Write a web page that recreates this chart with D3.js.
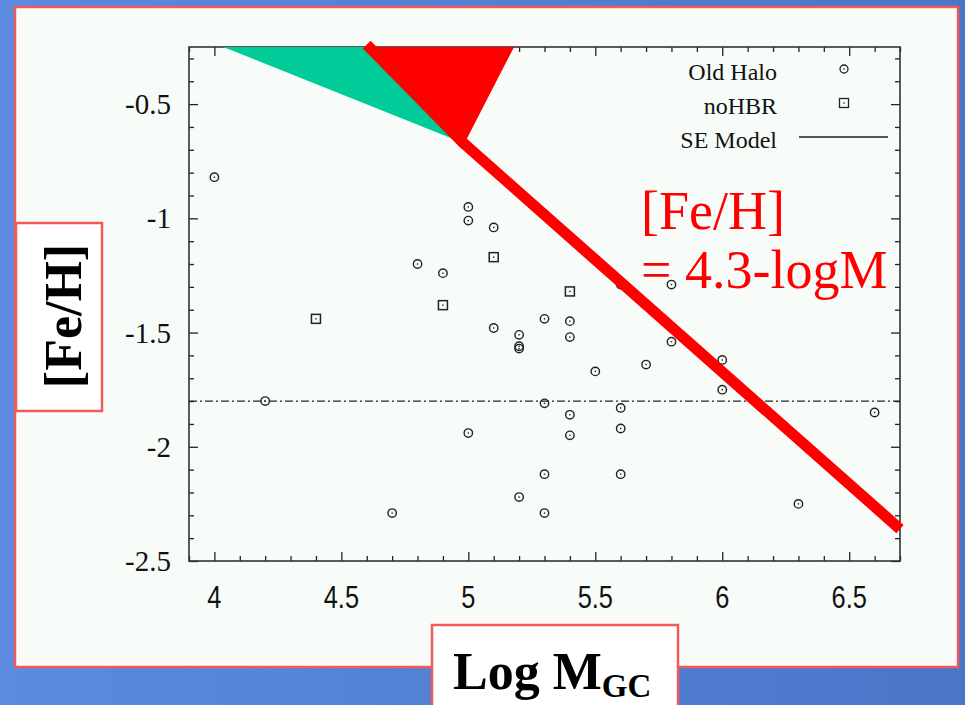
<!DOCTYPE html>
<html>
<head>
<meta charset="utf-8">
<script src="https://cdn.jsdelivr.net/npm/d3@7"></script>
<style>
  html, body { margin: 0; padding: 0; background: #4f7dd2; }
  svg { display: block; }
</style>
</head>
<body>
<div id="chart"></div>
<script>
//////////////////////////////////////////////////////////////
////////////////////////// Data //////////////////////////////
//////////////////////////////////////////////////////////////

// Old Halo clusters (log M, [Fe/H])
var oldHaloX = [4.0, 5.0, 5.0, 5.1, 4.8, 4.9, 5.6, 5.8, 5.3, 5.4, 5.4, 5.1, 5.2, 5.2, 5.2,
                5.8, 5.7, 5.5, 6.0, 6.0, 4.2, 5.3, 5.6, 5.4, 6.6, 5.0, 5.4, 5.6, 5.3, 5.6,
                5.2, 5.3, 4.7, 6.3];
var oldHaloY = [-0.82, -0.95, -1.01, -1.04, -1.20, -1.24, -1.29, -1.29, -1.44, -1.45, -1.52, -1.48, -1.51, -1.56, -1.57,
                -1.54, -1.64, -1.67, -1.62, -1.75, -1.80, -1.81, -1.83, -1.86, -1.85, -1.94, -1.95, -1.92, -2.12, -2.12,
                -2.22, -2.29, -2.29, -2.25];

// noHBR clusters
var noHbrX = [5.1, 4.9, 5.4, 4.4];
var noHbrY = [-1.17, -1.38, -1.32, -1.44];

// SE model level
var seModelY = -1.80;

// overlay shapes (data coords)
var greenTri = [[4.035, -0.25], [4.60, -0.25], [4.98, -0.67]];
var redTri   = [[4.60, -0.25], [5.18, -0.25], [4.99, -0.66]];
var redLine  = [[4.60, -0.24], [4.98, -0.67], [6.70, -2.36]];

// axis ticks
var xMajor = [4, 4.5, 5, 5.5, 6, 6.5];
var xMajorLabels = ["4", "4.5", "5", "5.5", "6", "6.5"];
var yMajor = [-0.5, -1, -1.5, -2, -2.5];
var yMajorLabels = ["-0.5", "-1", "-1.5", "-2", "-2.5"];
var xMinor = [3.9, 4.1, 4.2, 4.3, 4.4, 4.6, 4.7, 4.8, 4.9, 5.1, 5.2, 5.3, 5.4, 5.6, 5.7, 5.8, 5.9,
              6.1, 6.2, 6.3, 6.4, 6.6, 6.7];
var yMinor = [-0.3, -0.4, -0.6, -0.7, -0.8, -0.9, -1.1, -1.2, -1.3, -1.4, -1.6, -1.7, -1.8, -1.9,
              -2.1, -2.2, -2.3, -2.4];

var legendNames = ["Old Halo", "noHBR", "SE Model"];

//////////////////////////////////////////////////////////////
/////////////////////// SVG set up ///////////////////////////
//////////////////////////////////////////////////////////////

var width = 965, height = 705;

var svg = d3.select("#chart").append("svg")
    .attr("width", width)
    .attr("height", height);

var defs = svg.append("defs");
var bg = defs.append("linearGradient")
    .attr("id", "bg-grad")
    .attr("x1", "0%").attr("y1", "0%")
    .attr("x2", "100%").attr("y2", "0%");
bg.append("stop").attr("offset", 0).attr("stop-color", "#5b8ade");
bg.append("stop").attr("offset", 1).attr("stop-color", "#4a76c8");

svg.append("rect").attr("width", width).attr("height", height).style("fill", "url(#bg-grad)");

// slide panel
svg.append("rect")
    .attr("x", 15).attr("y", 7).attr("width", 943).attr("height", 660)
    .style("fill", "#f8fcf8")
    .style("stroke", "#f25a5a").style("stroke-width", 2.5);

var x = d3.scaleLinear().domain([3.9, 6.7]).range([189, 900]);
var y = d3.scaleLinear().domain([-2.5, -0.25]).range([561, 47]);

var plot = svg.append("g");

//////////////////////////////////////////////////////////////
/////////////////////// Axes /////////////////////////////////
//////////////////////////////////////////////////////////////

function tickAxis(axisFn, scale, values, size, tr) {
    plot.append("g")
        .attr("transform", tr)
        .call(axisFn(scale).tickValues(values).tickSize(size).tickFormat(""))
        .call(function(g) { g.select(".domain").remove(); })
        .selectAll("line").style("stroke", "#222").style("stroke-width", 1.3);
}

// inward ticks on all four sides (gnuplot style)
tickAxis(d3.axisTop, x, xMajor, 9, "translate(0," + y.range()[0] + ")");
tickAxis(d3.axisTop, x, xMinor, 5, "translate(0," + y.range()[0] + ")");
tickAxis(d3.axisBottom, x, xMajor, 9, "translate(0," + y.range()[1] + ")");
tickAxis(d3.axisBottom, x, xMinor, 5, "translate(0," + y.range()[1] + ")");
tickAxis(d3.axisRight, y, yMajor, 9, "translate(" + x.range()[0] + ",0)");
tickAxis(d3.axisRight, y, yMinor, 5, "translate(" + x.range()[0] + ",0)");
tickAxis(d3.axisLeft, y, yMajor, 9, "translate(" + x.range()[1] + ",0)");
tickAxis(d3.axisLeft, y, yMinor, 5, "translate(" + x.range()[1] + ",0)");

plot.append("rect")
    .attr("x", x.range()[0]).attr("y", y.range()[1])
    .attr("width", x.range()[1] - x.range()[0])
    .attr("height", y.range()[0] - y.range()[1])
    .style("fill", "none").style("stroke", "#333").style("stroke-width", 1.6);

// tick labels
plot.selectAll(".xlab").data(xMajor).enter().append("text")
    .attr("class", "xlab")
    .attr("transform", function(d) { return "translate(" + x(d) + ",608) scale(0.82,1)"; })
    .attr("text-anchor", "middle")
    .style("font-family", "'Liberation Sans', Arial, sans-serif")
    .style("font-size", "31px")
    .style("fill", "#111")
    .text(function(d, i) { return xMajorLabels[i]; });

plot.selectAll(".ylab").data(yMajor).enter().append("text")
    .attr("class", "ylab")
    .attr("x", 171)
    .attr("y", function(d) { return y(d) + 10; })
    .attr("text-anchor", "end")
    .style("font-family", "'Liberation Serif', 'Times New Roman', serif")
    .style("font-size", "29px")
    .style("fill", "#111")
    .text(function(d, i) { return yMajorLabels[i]; });

//////////////////////////////////////////////////////////////
/////////////////////// Marks ////////////////////////////////
//////////////////////////////////////////////////////////////

// SE model line
plot.append("line")
    .attr("x1", x.range()[0]).attr("x2", x.range()[1])
    .attr("y1", y(seModelY)).attr("y2", y(seModelY))
    .style("stroke", "#222").style("stroke-width", 1.1)
    .style("stroke-dasharray", "8,3,2,3");

var haloData = oldHaloX.map(function(d, i) { return [d, oldHaloY[i]]; });
var hbrData = noHbrX.map(function(d, i) { return [d, noHbrY[i]]; });

function drawCircles(g, data) {
    g.selectAll(".oh").data(data).enter().append("circle")
        .attr("class", "oh")
        .attr("cx", function(d) { return x(d[0]); })
        .attr("cy", function(d) { return y(d[1]); })
        .attr("r", 4.2)
        .style("fill", "none").style("stroke", "#222").style("stroke-width", 1.4);
    g.selectAll(".ohd").data(data).enter().append("rect")
        .attr("class", "ohd")
        .attr("x", function(d) { return x(d[0]) - 0.7; })
        .attr("y", function(d) { return y(d[1]) - 0.7; })
        .attr("width", 1.4).attr("height", 1.4)
        .style("fill", "#222");
}

function drawSquares(g, data) {
    g.selectAll(".hb").data(data).enter().append("rect")
        .attr("class", "hb")
        .attr("x", function(d) { return x(d[0]) - 4.5; })
        .attr("y", function(d) { return y(d[1]) - 4.5; })
        .attr("width", 9).attr("height", 9)
        .style("fill", "none").style("stroke", "#222").style("stroke-width", 1.5);
    g.selectAll(".hbd").data(data).enter().append("rect")
        .attr("class", "hbd")
        .attr("x", function(d) { return x(d[0]) - 0.7; })
        .attr("y", function(d) { return y(d[1]) - 0.7; })
        .attr("width", 1.4).attr("height", 1.4)
        .style("fill", "#222");
}

drawCircles(plot.append("g"), haloData);
drawSquares(plot.append("g"), hbrData);

//////////////////////////////////////////////////////////////
/////////////////////// Legend ///////////////////////////////
//////////////////////////////////////////////////////////////

var legend = plot.append("g");
var legendY = [80, 114, 148];
legend.selectAll("text").data(legendNames).enter().append("text")
    .attr("x", 777)
    .attr("y", function(d, i) { return legendY[i]; })
    .attr("text-anchor", "end")
    .style("font-family", "'Liberation Serif', 'Times New Roman', serif")
    .style("font-size", "24px")
    .style("fill", "#111")
    .text(function(d) { return d; });

legend.append("circle").attr("cx", 844).attr("cy", 69).attr("r", 4)
    .style("fill", "none").style("stroke", "#222").style("stroke-width", 1.3);
legend.append("rect").attr("x", 843.3).attr("y", 68.3).attr("width", 1.4).attr("height", 1.4).style("fill", "#222");
legend.append("rect").attr("x", 839.5).attr("y", 98.5).attr("width", 9).attr("height", 9)
    .style("fill", "none").style("stroke", "#222").style("stroke-width", 1.3);
legend.append("rect").attr("x", 843.3).attr("y", 102.3).attr("width", 1.4).attr("height", 1.4).style("fill", "#222");
legend.append("line").attr("x1", 799).attr("x2", 888).attr("y1", 137).attr("y2", 137)
    .style("stroke", "#222").style("stroke-width", 1.3);

//////////////////////////////////////////////////////////////
/////////////////////// Overlay //////////////////////////////
//////////////////////////////////////////////////////////////

var toPts = function(arr) { return arr.map(function(p) { return x(p[0]) + "," + y(p[1]); }).join(" "); };

svg.append("polygon").attr("points", toPts(greenTri)).style("fill", "#00cc99");
svg.append("polygon").attr("points", toPts(redTri)).style("fill", "#ff0000");
svg.append("path")
    .attr("d", d3.line().x(function(d) { return x(d[0]); }).y(function(d) { return y(d[1]); })(redLine))
    .style("fill", "none").style("stroke", "#ff0000").style("stroke-width", 11)
    .style("stroke-linejoin", "round");

svg.append("text")
    .attr("x", 641).attr("y", 229)
    .style("font-family", "'Liberation Serif', 'Times New Roman', serif")
    .style("font-size", "54px")
    .style("fill", "#ff0000")
    .text("[Fe/H]");
svg.append("text")
    .attr("x", 641).attr("y", 288)
    .style("font-family", "'Liberation Serif', 'Times New Roman', serif")
    .style("font-size", "54px")
    .style("fill", "#ff0000")
    .text("= 4.3-logM");

// axis title boxes
svg.append("rect")
    .attr("x", 16).attr("y", 223).attr("width", 86).attr("height", 188)
    .style("fill", "#ffffff").style("stroke", "#f25a5a").style("stroke-width", 2.5);
svg.append("text")
    .attr("transform", "translate(81,316) rotate(-90)")
    .attr("text-anchor", "middle")
    .style("font-family", "'Liberation Serif', 'Times New Roman', serif")
    .style("font-weight", "bold")
    .style("font-size", "52px")
    .style("fill", "#000")
    .text("[Fe/H]");

svg.append("rect")
    .attr("x", 432).attr("y", 625).attr("width", 246).attr("height", 90)
    .style("fill", "#ffffff").style("stroke", "#f25a5a").style("stroke-width", 2.5);
var xt = svg.append("text")
    .attr("x", 453).attr("y", 689)
    .style("font-family", "'Liberation Serif', 'Times New Roman', serif")
    .style("font-weight", "bold")
    .style("font-size", "52px")
    .style("fill", "#000");
xt.append("tspan").text("Log M");
xt.append("tspan").attr("dy", 8).style("font-size", "33px").text("GC");
</script>
</body>
</html>
